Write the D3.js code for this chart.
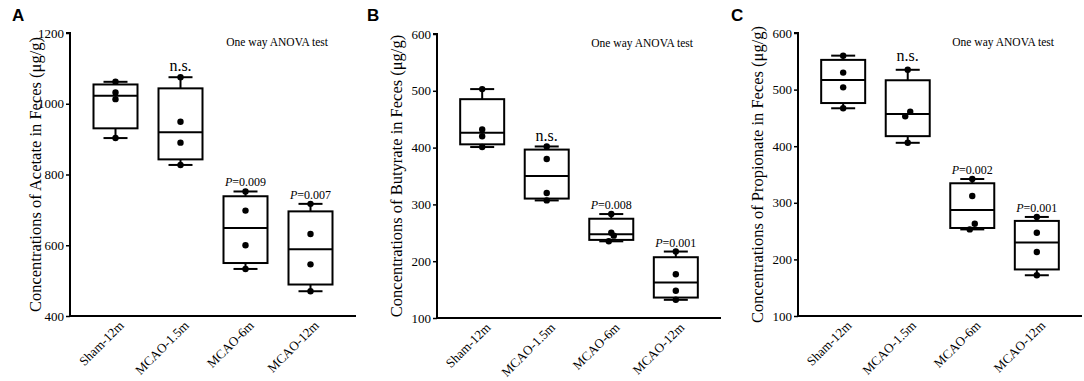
<!DOCTYPE html>
<html>
<head>
<meta charset="utf-8">
<script src="https://cdn.jsdelivr.net/npm/d3@7"></script>
<style>
  html, body { margin: 0; padding: 0; background: #fff; }
  svg { display: block; }
  text { font-family: "Liberation Serif", "Times New Roman", serif; fill: #000; }
</style>
</head>
<body>
<svg id="chart" width="1084" height="381"></svg>
<script>
// ---------- data ----------
const groups = ["Sham-12m", "MCAO-1.5m", "MCAO-6m", "MCAO-12m"];

const acetateValues = [
  [1062, 1032, 1013, 903],
  [1075, 949, 890, 827],
  [752, 698, 600, 533],
  [717, 632, 546, 470]
];
const butyrateValues = [
  [503, 432, 420, 401],
  [402, 380, 320, 307],
  [283, 250, 245, 235],
  [217, 177, 148, 132]
];
const propionateValues = [
  [560, 530, 504, 467],
  [535, 461, 453, 406],
  [342, 312, 263, 253],
  [275, 247, 213, 172]
];

const acetateNotes = ["", "n.s.", "P=0.009", "P=0.007"];
const butyrateNotes = ["", "n.s.", "P=0.008", "P=0.001"];
const propionateNotes = ["", "n.s.", "P=0.002", "P=0.001"];

const acetateTicks = [400, 600, 800, 1000, 1200];
const butyrateTicks = [100, 200, 300, 400, 500, 600];
const propionateTicks = [100, 200, 300, 400, 500, 600];

const acetateTitle = "Concentrations of Acetate in Feces (μg/g)";
const butyrateTitle = "Concentrations of Butyrate in Feces (μg/g)";
const propionateTitle = "Concentrations of Propionate in Feces (μg/g)";
const testLabel = "One way ANOVA test";

// ---------- layout ----------
const panels = [
  { letter: "A", letterX: 12, x0: 70, x1: 356, top: 33, bottom: 316, titleX: 35, nsGap: 6,
    values: acetateValues, notes: acetateNotes, ticks: acetateTicks, title: acetateTitle },
  { letter: "B", letterX: 367, x0: 437, x1: 721, top: 34, bottom: 318, titleX: 396, nsGap: 5,
    values: butyrateValues, notes: butyrateNotes, ticks: butyrateTicks, title: butyrateTitle },
  { letter: "C", letterX: 731, x0: 798, x1: 1082, top: 33, bottom: 316, titleX: 757, nsGap: 9,
    values: propionateValues, notes: propionateNotes, ticks: propionateTicks, title: propionateTitle }
];

// GraphPad-style percentile: position p*(n+1) in sorted data
function pct(sorted, p) {
  const n = sorted.length;
  let pos = p * (n + 1);
  if (pos <= 1) return sorted[0];
  if (pos >= n) return sorted[n - 1];
  const lo = Math.floor(pos), frac = pos - lo;
  return sorted[lo - 1] + frac * (sorted[lo] - sorted[lo - 1]);
}

const svg = d3.select("#chart");

panels.forEach(p => {
  const g = svg.append("g");
  const x = d3.scalePoint().domain(groups).range([p.x0, p.x1]).padding(0.7);
  const y = d3.scaleLinear()
    .domain([d3.min(p.ticks), d3.max(p.ticks)])
    .range([p.bottom, p.top]);
  const boxW = 44, capW = 24;

  // panel letter
  g.append("text").attr("x", p.letterX).attr("y", 21)
    .style("font-family", "'Liberation Sans', Arial, sans-serif")
    .style("font-weight", "bold").style("font-size", "17px").style("fill", "#000")
    .text(p.letter);

  // y axis
  const ya = g.append("g").attr("transform", `translate(${p.x0},0)`)
    .call(d3.axisLeft(y).tickValues(p.ticks).tickSize(4).tickPadding(2).tickFormat(d3.format("d")));
  ya.select(".domain").attr("stroke", "#000").attr("stroke-width", 2).attr("d", `M-4,${p.top}H0V${p.bottom}`);
  ya.selectAll(".tick line").attr("stroke", "#000").attr("stroke-width", 1.5);
  ya.selectAll(".tick text").style("font-family", "'Liberation Serif', serif")
    .style("font-size", "13px").style("fill", "#000");

  // x axis (line only; labels drawn below from the scale)
  const xa = g.append("g").attr("transform", `translate(0,${p.bottom})`)
    .call(d3.axisBottom(x).tickSize(0).tickFormat(""));
  xa.select(".domain").attr("stroke", "#000").attr("stroke-width", 2).attr("d", `M${p.x0},0H${p.x1}`);

  const lab = g.selectAll(".xlab").data(groups).enter().append("g")
    .attr("class", "xlab")
    .attr("transform", d => `translate(${x(d) + 6},${p.bottom + 7}) rotate(-45)`);
  lab.append("text")
    .attr("text-anchor", "end").attr("dy", "0.35em")
    .style("font-size", "13px").style("fill", "#000")
    .text(d => d);

  // y title
  g.append("text")
    .attr("transform", `translate(${p.titleX},${(p.top + p.bottom) / 2}) rotate(-90)`)
    .attr("text-anchor", "middle").attr("dy", "0.35em")
    .style("font-size", "16.5px").style("fill", "#000")
    .text(p.title);

  // ANOVA label
  g.append("text").attr("x", p.x1 - 28).attr("y", p.top + 13)
    .attr("text-anchor", "end").style("font-size", "11.5px").style("fill", "#000")
    .text(testLabel);

  // boxes
  groups.forEach((grp, i) => {
    const vals = p.values[i].slice().sort((a, b) => a - b);
    const cx = x(grp);
    const mn = vals[0], mx = vals[vals.length - 1];
    const q1 = pct(vals, 0.25), med = pct(vals, 0.5), q3 = pct(vals, 0.75);
    const bg = g.append("g").attr("fill", "none").attr("stroke", "#000").attr("stroke-width", 2);
    bg.append("line").attr("x1", cx).attr("x2", cx).attr("y1", y(q3)).attr("y2", y(mx));
    bg.append("line").attr("x1", cx).attr("x2", cx).attr("y1", y(q1)).attr("y2", y(mn));
    bg.append("line").attr("x1", cx - capW / 2).attr("x2", cx + capW / 2).attr("y1", y(mx)).attr("y2", y(mx));
    bg.append("line").attr("x1", cx - capW / 2).attr("x2", cx + capW / 2).attr("y1", y(mn)).attr("y2", y(mn));
    bg.append("rect").attr("x", cx - boxW / 2).attr("y", y(q3))
      .attr("width", boxW).attr("height", y(q1) - y(q3)).attr("fill", "#fff");
    bg.append("line").attr("x1", cx - boxW / 2).attr("x2", cx + boxW / 2).attr("y1", y(med)).attr("y2", y(med));

    const py = vals.map(v => y(v));
    const offs = vals.map(() => 0);
    for (let k = 1; k < py.length; k++) {
      if (Math.abs(py[k] - py[k - 1]) < 6 && offs[k - 1] === 0) {
        offs[k - 1] = -2.5; offs[k] = 2.5;
      }
    }
    g.selectAll(null).data(vals).enter().append("circle")
      .attr("cx", (d, k) => cx + offs[k]).attr("cy", d => y(d)).attr("r", 3.2).attr("fill", "#000");

    const note = p.notes[i];
    if (note) {
      const t = g.append("text").attr("x", cx).attr("text-anchor", "middle").style("fill", "#000");
      if (note.startsWith("P=")) {
        t.attr("y", y(mx) - 5).style("font-size", "12px");
        t.append("tspan").style("font-style", "italic").text("P");
        t.append("tspan").text(note.slice(1));
      } else {
        t.attr("y", y(mx) - p.nsGap).style("font-size", "16px").text(note);
      }
    }
  });
});
</script>
</body>
</html>
